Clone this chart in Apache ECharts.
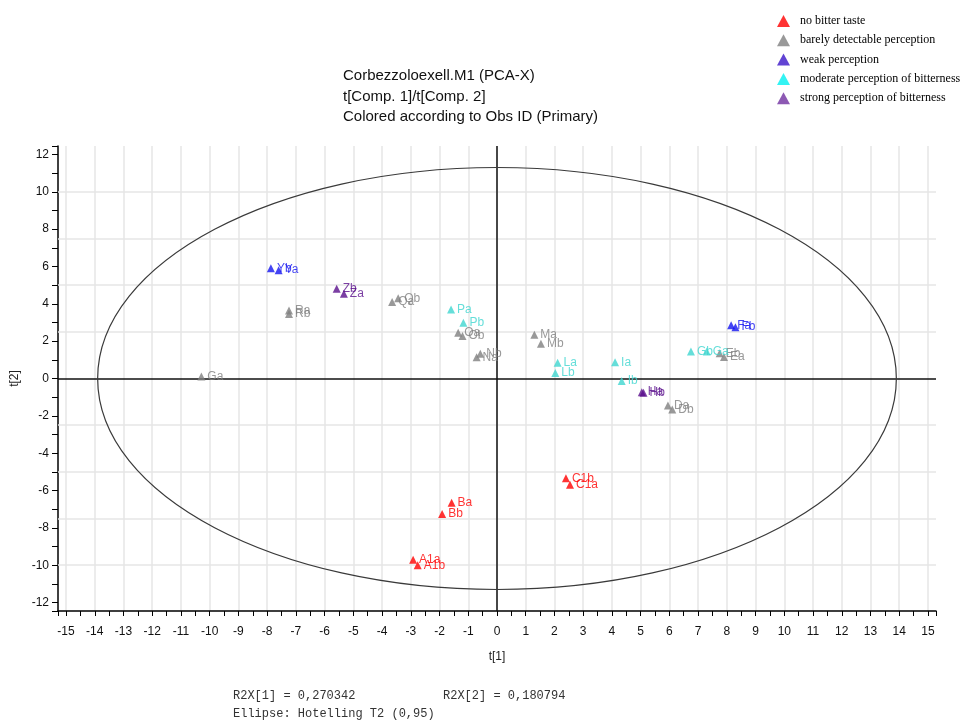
<!DOCTYPE html>
<html>
<head>
<meta charset="utf-8">
<title>Corbezzoloexell.M1 (PCA-X)</title>
<script src="https://cdn.jsdelivr.net/npm/echarts@6/dist/echarts.min.js"></script>
<style>
  html, body { margin: 0; padding: 0; background: #fff; }
  #chart { width: 966px; height: 720px; }
</style>
</head>
<body>
<div id="chart"></div>
<script>
// Score values t[1], t[2] per bitterness class
const noBitterNames = ['A1a', 'A1b', 'Ba', 'Bb', 'C1a', 'C1b'];
const noBitterT1 = [-2.92, -2.76, -1.58, -1.91, 2.54, 2.40];
const noBitterT2 = [-9.71, -10.0, -6.66, -7.25, -5.69, -5.34];

const barelyNames = ['Ga', 'Ra', 'Rb', 'Qa', 'Qb', 'Oa', 'Ob', 'Na', 'Nb', 'Ma', 'Mb', 'Da', 'Db', 'Ea', 'Eb'];
const barelyT1 = [-10.29, -7.24, -7.24, -3.65, -3.44, -1.35, -1.20, -0.71, -0.58, 1.30, 1.53, 5.95, 6.10, 7.90, 7.75];
const barelyT2 = [0.11, 3.64, 3.46, 4.09, 4.30, 2.45, 2.27, 1.14, 1.32, 2.34, 1.86, -1.45, -1.66, 1.15, 1.35];

const weakNames = ['Ya', 'Yb', 'Fa', 'Fb'];
const weakT1 = [-7.60, -7.87, 8.15, 8.30];
const weakT2 = [5.80, 5.90, 2.85, 2.75];

const moderateNames = ['Pa', 'Pb', 'La', 'Lb', 'Ia', 'Ib', 'Ga', 'Gb'];
const moderateT1 = [-1.60, -1.17, 2.11, 2.03, 4.11, 4.34, 7.30, 6.75];
const moderateT2 = [3.70, 2.98, 0.84, 0.30, 0.87, -0.14, 1.45, 1.45];

const strongNames = ['Za', 'Zb', 'Ha', 'Hb'];
const strongT1 = [-5.33, -5.58, 5.04, 5.10];
const strongT2 = [4.54, 4.81, -0.73, -0.76];

// Hotelling T2 (0.95) ellipse semi-axes in score units
const ellipseT1 = 13.9;
const ellipseT2 = 11.3;

// Horizontal reference lines of the score plot
const gridT2 = [-10, -7.5, -5, -2.5, 2.5, 5, 7.5, 10];

const classNames = [
  'no bitter taste',
  'barely detectable perception',
  'weak perception',
  'moderate perception of bitterness',
  'strong perception of bitterness'
];

const pointColors = ['#ff0000', '#808080', '#1414f0', '#3fd6cf', '#5a0f8c'];
const legendColors = ['#ff0000', '#808080', '#3a14c8', '#00f0f0', '#7030a0'];

function points(names, t1, t2) {
  return names.map((n, i) => ({ name: n, value: [t1[i], t2[i]] }));
}

const groups = [
  points(noBitterNames, noBitterT1, noBitterT2),
  points(barelyNames, barelyT1, barelyT2),
  points(weakNames, weakT1, weakT2),
  points(moderateNames, moderateT1, moderateT2),
  points(strongNames, strongT1, strongT2)
];

const sans = 'Arial, "Liberation Sans", sans-serif';
const mono = '12px "Liberation Mono", "Courier New", monospace';

const scatterSeries = groups.map((data, i) => ({
  name: classNames[i],
  type: 'scatter',
  data: data,
  symbol: 'triangle',
  symbolSize: 8,
  itemStyle: { color: pointColors[i] },
  label: {
    show: true,
    position: 'right',
    distance: 2,
    formatter: '{b}',
    color: pointColors[i],
    fontSize: 12,
    fontFamily: sans
  },
  emphasis: { disabled: true },
  z: 5
}));

const chart = echarts.init(document.getElementById('chart'), null, { renderer: 'canvas' });

chart.setOption({
  animation: false,
  backgroundColor: '#ffffff',
  title: {
    text: 'Corbezzoloexell.M1 (PCA-X)\nt[Comp. 1]/t[Comp. 2]\nColored according to Obs ID (Primary)',
    left: 343,
    top: 66,
    padding: 0,
    textStyle: {
      fontSize: 15,
      fontWeight: 'normal',
      lineHeight: 20.5,
      fontFamily: sans,
      color: '#111'
    }
  },
  legend: {
    orient: 'vertical',
    left: 777,
    top: 15,
    padding: 0,
    itemWidth: 13,
    itemHeight: 12,
    itemGap: 7.3,
    icon: 'triangle',
    data: classNames.map((n, i) => ({ name: n, itemStyle: { color: legendColors[i] } })),
    textStyle: {
      fontFamily: '"Liberation Serif", "Times New Roman", serif',
      fontSize: 12,
      lineHeight: 12,
      padding: [0, 0, 0, 5],
      color: '#000'
    }
  },
  grid: { left: 58, right: 30, top: 146, bottom: 109, containLabel: false },
  xAxis: {
    type: 'value',
    min: -15.28,
    max: 15.28,
    splitNumber: 30,
    name: 't[1]',
    nameLocation: 'middle',
    nameGap: 40,
    nameTextStyle: { fontFamily: sans, fontSize: 12, color: '#222' },
    axisLine: { show: true, onZero: false, lineStyle: { color: '#000', width: 1.5 } },
    axisTick: { show: true, length: 5, lineStyle: { color: '#000' } },
    minorTick: { show: true, splitNumber: 2, length: 5, lineStyle: { color: '#000' } },
    splitLine: { show: true, showMinLine: false, showMaxLine: false, lineStyle: { color: '#e6e6e6', width: 1.5 } },
    axisLabel: {
      margin: 15,
      fontFamily: sans,
      fontSize: 12,
      color: '#111',
      showMinLabel: true,
      showMaxLabel: true,
      formatter: v => (Math.abs(v - Math.round(v)) < 1e-6 ? String(Math.round(v)) : '')
    }
  },
  yAxis: {
    type: 'value',
    min: -12.45,
    max: 12.45,
    splitNumber: 25,
    name: 't[2]',
    nameLocation: 'middle',
    nameGap: 29,
    nameTextStyle: { fontFamily: sans, fontSize: 12, color: '#222' },
    axisLine: { show: true, onZero: false, lineStyle: { color: '#000', width: 1.5 } },
    axisTick: { show: true, length: 6, lineStyle: { color: '#000' } },
    splitLine: { show: false },
    axisLabel: {
      margin: 9,
      fontFamily: sans,
      fontSize: 12,
      color: '#111',
      formatter: v => {
        const r = Math.round(v);
        return Math.abs(v - r) < 1e-6 && r % 2 === 0 ? String(r) : '';
      }
    }
  },
  series: [
    {
      name: 'T2 ellipse',
      type: 'custom',
      data: [[0, 0]],
      encode: { x: 0, y: 1 },
      silent: true,
      z: 3,
      renderItem: (params, api) => {
        const c = api.coord([api.value(0), api.value(1)]);
        const s = api.size([ellipseT1, ellipseT2]);
        return {
          type: 'ellipse',
          shape: { cx: c[0], cy: c[1], rx: s[0], ry: s[1] },
          style: { fill: 'none', stroke: '#3a3a3a', lineWidth: 1.2 }
        };
      },
      markLine: {
        silent: true,
        symbol: 'none',
        label: { show: false },
        z: 1,
        data: gridT2.map(v => ({ yAxis: v, lineStyle: { color: '#e6e6e6', width: 1.5, type: 'solid' } }))
          .concat([
            { yAxis: 0, lineStyle: { color: '#111', width: 1.5, type: 'solid' } },
            { xAxis: 0, lineStyle: { color: '#111', width: 1.5, type: 'solid' } }
          ])
      }
    }
  ].concat(scatterSeries),
  graphic: [
    { type: 'text', left: 233, top: 690, style: { text: 'R2X[1] = 0,270342', font: mono, fill: '#333' } },
    { type: 'text', left: 443, top: 690, style: { text: 'R2X[2] = 0,180794', font: mono, fill: '#333' } },
    { type: 'text', left: 233, top: 708, style: { text: 'Ellipse: Hotelling T2 (0,95)', font: mono, fill: '#333' } }
  ]
});
</script>
</body>
</html>
